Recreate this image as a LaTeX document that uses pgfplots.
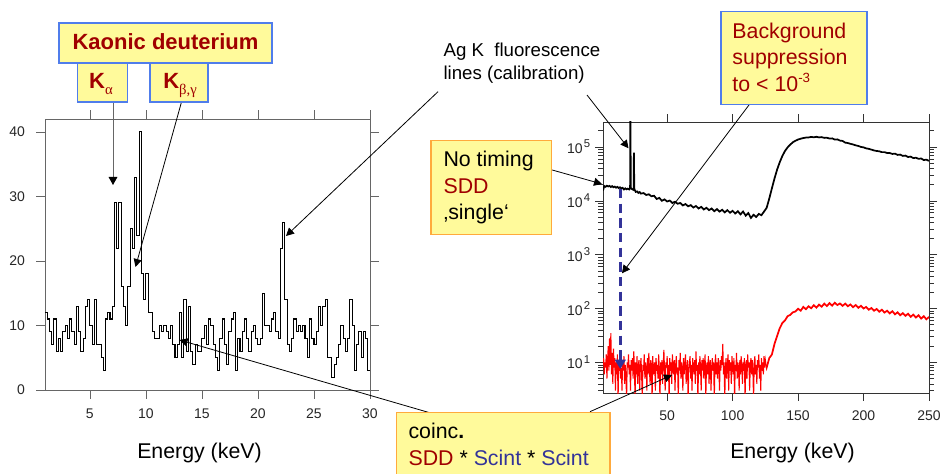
\documentclass[border=0pt]{standalone}
\usepackage{pgfplots}
\pgfplotsset{compat=1.18}
\usepackage{pgfplotstable}
\usepackage{fontspec}
\setmainfont{Liberation Sans}
\newfontfamily\greekfont{Liberation Serif}
\usetikzlibrary{arrows.meta}
\definecolor{boxfill}{RGB}{255,250,155}
\definecolor{blueborder}{RGB}{80,125,235}
\definecolor{orangeborder}{RGB}{255,170,60}
\definecolor{darkred}{RGB}{160,0,0}
\definecolor{scintblue}{RGB}{51,51,153}

% histogram, 0.2 keV bins from 1 keV
\pgfplotstableread{
v
12
11
9
7
11
6
8
6
9
10
8
11
9
7
13
9
6
8
13
14
10
7
14
7
7
5
3
11
12
11
13
29
22
29
16
13
10
16
25
22
33
24
40
18
14
18
12
12
9
8
8
10
9
10
9
8
10
7
5
7
12
5
14
6
13
6
4
7
6
6
8
10
7
11
10
7
5
3
8
11
7
4
9
11
12
3
8
6
9
11
8
6
9
10
8
7
8
15
10
10
9
11
12
9
8
22
26
14
7
6
8
11
9
10
9
10
8
5
11
8
7
9
13
10
13
14
5
5
2
4
5
7
10
8
6
8
14
10
3
7
9
5
9
8
3
3
}\histo

% SDD single spectrum
\pgfplotstableread{
x y
1 15500
2 18800
3 18200
4 19000
5 18400
6 18900
7 18000
8 18700
9 17800
10 18300
11 17500
12 18100
13 17200
14 17800
15 16900
16 17400
17 16200
18 17000
19 16300
20 16800
21 16200
21.7 17000
21.9 300000
22.0 300000
22.2 17500
23 16600
24 16000
24.4 17000
24.6 78000
24.9 16800
25.3 15800
26 14600
27 14900
28 14000
29 14500
30 13600
32 13900
34 12800
36 13200
38 12100
40 12400
42 10800
44 11300
46 10000
48 10600
50 9700
52 10100
54 9100
56 9600
58 8800
60 9100
62 8200
64 8700
66 7900
68 8300
70 7500
72 8000
74 7200
76 7700
78 6900
80 7400
82 6700
84 7200
86 6400
88 7000
90 6300
92 6800
94 6100
96 6700
98 6000
100 6500
102 5800
104 6400
106 5600
108 6300
110 5300
112 5900
114 4800
116 5500
118 5000
120 5700
122 5400
124 6300
126 7400
128 11000
130 17000
132 26000
134 38000
136 52000
138 68000
140 84000
142 98000
144 110000
146 122000
148 130000
150 137000
152 142000
154 146000
156 149000
158 150000
160 153000
162 151000
164 154000
166 150000
168 152000
170 147000
172 148000
174 143000
176 144000
178 137000
180 138000
182 131000
184 129000
186 120000
188 118000
190 114000
192 111000
194 107000
196 104000
198 100000
200 98000
202 94000
204 92000
206 89000
208 86000
210 84000
212 83000
214 80000
216 80000
218 77000
220 77000
222 74000
224 75000
226 71000
228 72000
230 68000
232 69000
234 65000
236 66000
238 62000
240 63000
242 60000
244 61000
246 57000
248 58000
250 55000
}\single

% coincidence spectrum, 0.5 keV steps from 1 to 125.5
\pgfplotstableread{
y
9
12
6
10
8
14
5
11
20
7
28
9
35
6
15
4
18
8
12
3
10
6
14
2
9
7
12
5
8
3
11
7
13
4
9
6
2
10
8
14
6
9
3
11
7
12
5
16
8
2
10
6
13
4
9
11
3
8
12
6
2
9
7
14
5
10
8
3
12
6
15
7
4
11
9
2
13
6
8
10
3
12
7
9
5
14
8
2
10
6
11
4
9
17
7
3
10
8
13
5
9
2
12
7
10
4
14
8
6
11
3
9
13
6
8
2
11
7
15
5
10
8
3
12
6
9
14
4
8
11
2
7
10
13
5
9
3
12
8
6
11
4
16
7
9
2
10
6
13
8
3
11
7
12
5
9
14
2
8
10
6
13
4
9
11
3
8
12
7
10
2
9
14
6
10
5
12
8
3
11
7
13
9
22
6
10
2
8
12
5
9
14
3
11
7
10
4
13
8
6
12
2
9
7
15
5
10
8
3
11
6
13
9
4
10
7
12
2
8
11
5
14
8
10
3
9
12
6
11
7
2
10
13
6
9
4
11
8
14
5
9
3
12
7
10
6
13
8
11
9
}\coinclow

\pgfplotstableread{
x y
125.5 9
126 8
128 12
130 14
132 22
134 31
136 43
138 54
140 60
142 72
144 76
146 85
148 88
150 99
152 91
154 107
156 97
158 110
160 101
162 115
164 104
166 118
168 108
170 123
172 111
174 126
176 113
178 128
180 116
182 124
184 112
186 123
188 110
190 119
192 106
194 116
196 103
198 112
200 100
202 107
204 95
206 102
208 91
210 98
212 87
214 95
216 84
218 91
220 81
222 89
224 78
226 85
228 75
230 82
232 73
234 80
236 70
238 77
240 68
242 75
244 65
246 72
248 63
250 70
}\coinchigh

\begin{document}
\begin{tikzpicture}
\path[use as bounding box] (0pt,0pt) rectangle (705pt,-355.5pt);

% ---------- left: kaonic deuterium histogram ----------
\begin{axis}[
  at={(33.75pt,-292.5pt)}, anchor=south west,
  scale only axis, width=243.75pt, height=203.25pt,
  xmin=1, xmax=30, ymin=0, ymax=42,
  xtick={5,10,...,30}, ytick={0,10,...,40},
  tick align=outside, major tick length=6.5pt,
  axis line style={black!60}, every tick/.style={black!60},
  tick label style={font=\fontsize{10.5}{12}\selectfont, text=black!85},
  /pgf/number format/assume math mode=true,
  xticklabel style={yshift=-4pt}, yticklabel style={xshift=-5pt},
]
\addplot[const plot, black, line width=0.8pt] table[x expr=1+0.2*\coordindex, y=v]{\histo};
\end{axis}

% ---------- right: SDD spectra, log scale ----------
\begin{axis}[
  at={(452.25pt,-294.75pt)}, anchor=south west,
  scale only axis, width=244.5pt, height=203.25pt,
  ymode=log, xmin=1, xmax=250, ymin=2.7, ymax=2.9e5,
  xtick={50,100,...,250},
  ytick={10,100,1000,10000,100000},
  minor ytick={3,4,5,6,7,8,9,20,30,40,50,60,70,80,90,200,300,400,500,600,700,800,900,2000,3000,4000,5000,6000,7000,8000,9000,20000,30000,40000,50000,60000,70000,80000,90000,200000},
  yticklabels={10\hspace{1pt}\raisebox{0.75ex}{\fontsize{8.5}{8}\selectfont 1},
               10\hspace{1pt}\raisebox{0.75ex}{\fontsize{8.5}{8}\selectfont 2},
               10\hspace{1pt}\raisebox{0.75ex}{\fontsize{8.5}{8}\selectfont 3},
               10\hspace{1pt}\raisebox{0.75ex}{\fontsize{8.5}{8}\selectfont 4},
               10\hspace{1pt}\raisebox{0.75ex}{\fontsize{8.5}{8}\selectfont 5}},
  tick align=outside, major tick length=6pt, minor tick length=3.5pt,
  axis line style={black!80}, every tick/.style={black!80},
  tick label style={font=\fontsize{10.5}{12}\selectfont, text=black!85},
  /pgf/number format/assume math mode=true,
  xticklabel style={yshift=-4pt},
]
\addplot[black, line width=1.3pt] table[x=x, y=y]{\single};
\addplot[red, line width=0.8pt] table[x expr=1+0.5*\coordindex, y=y]{\coinclow};
\addplot[red, line width=1.3pt] table[x=x, y=y]{\coinchigh};
\end{axis}

% ---------- annotations (coordinates in pixels of the 940x474 frame) ----------
\begin{scope}[x=0.75pt,y=-0.75pt, >={Triangle[length=6pt,width=6pt]}]
  % axis titles
  \node[anchor=base, inner sep=0pt, font=\fontsize{16}{18}\selectfont] at (199.5,458) {Energy (keV)};
  \node[anchor=base, inner sep=0pt, font=\fontsize{16}{18}\selectfont] at (792.5,458) {Energy (keV)};

  % thin arrows
  \draw[black!60, line width=0.7pt, -{Triangle[length=6pt,width=6.5pt,color=black]}] (113,102) -- (113,185);
  \draw[black, line width=0.6pt, ->] (181.5,102) -- (135.5,267);
  \draw[black, line width=0.6pt, ->] (438,91.7) -- (286,236);
  \draw[black, line width=0.6pt, ->] (587,95) -- (628.5,148.3);
  \draw[black, line width=0.6pt, ->] (749.5,104.3) -- (622,273.3);
  \draw[black, line width=0.6pt, ->] (552.2,170) -- (602,184);
  \draw[black, line width=0.6pt, ->] (431.7,413.3) -- (179.5,340);
  \draw[black, line width=0.6pt, ->] (590,411.7) -- (672,375);
  % dashed blue arrow
  \draw[scintblue, line width=2.2pt, dash pattern=on 7pt off 4pt, -{Triangle[length=7pt,width=8pt]}] (620.3,189) -- (620.3,369);

  % Kaonic deuterium boxes
  \draw[blueborder, line width=1pt, fill=boxfill] (77.5,63) rectangle (127.5,102);
  \draw[blueborder, line width=1pt, fill=boxfill] (150,63) rectangle (208,102);
  \draw[blueborder, line width=1pt, fill=boxfill] (59,23) rectangle (272,63);
  \node[anchor=base, inner sep=0pt, text=darkred, font=\bfseries\fontsize{16.5}{18}\selectfont] at (165.5,50) {Kaonic deuterium};
  \node[anchor=base, inner sep=0pt, text=darkred, font=\bfseries\fontsize{16.5}{18}\selectfont] at (101,88.3) {K\raisebox{-0.5ex}{\greekfont\mdseries\fontsize{11}{11}\selectfont α}};
  \node[anchor=base, inner sep=0pt, text=darkred, font=\bfseries\fontsize{16.5}{18}\selectfont] at (180,88.3) {K\raisebox{-0.5ex}{\greekfont\mdseries\fontsize{11}{11}\selectfont β,γ}};

  % Ag K text
  \node[anchor=base west, inner sep=0pt, font=\fontsize{14}{16}\selectfont] at (443.3,56.7) {Ag K\ \ fluorescence};
  \node[anchor=base west, inner sep=0pt, font=\fontsize{14}{16}\selectfont] at (443.3,80) {lines (calibration)};

  % Background suppression box
  \draw[blueborder, line width=1pt, fill=boxfill] (721,11.7) rectangle (867,104.3);
  \begin{scope}[every node/.style={anchor=base west, inner sep=0pt, text=darkred, font=\fontsize{16}{18}\selectfont}]
    \node at (732.2,38.3) {Background};
    \node at (732.2,65) {suppression};
    \node at (732.2,91.7) {to < 10\raisebox{0.8ex}{\fontsize{10}{10}\selectfont -3}};
  \end{scope}

  % No timing box
  \draw[orangeborder, line width=1pt, fill=boxfill] (431,140.7) rectangle (551.2,234.3);
  \begin{scope}[every node/.style={anchor=base west, inner sep=0pt, font=\fontsize{16}{18}\selectfont}]
    \node at (443.3,166.7) {No timing};
    \node[text=darkred] at (443.3,193.4) {SDD};
    \node at (443.3,220) {‚single‘};
  \end{scope}

  % coinc box
  \draw[orangeborder, line width=1pt, fill=boxfill] (396.7,412.7) rectangle (610,490);
  \begin{scope}[every node/.style={anchor=base west, inner sep=0pt, font=\fontsize{16}{18}\selectfont}]
    \node at (408.3,438.3) {coinc\textbf{.}};
    \node at (408.3,465) {\textcolor{darkred}{SDD} * \textcolor{scintblue}{Scint} * \textcolor{scintblue}{Scint}};
  \end{scope}
\end{scope}
\end{tikzpicture}
\end{document}
